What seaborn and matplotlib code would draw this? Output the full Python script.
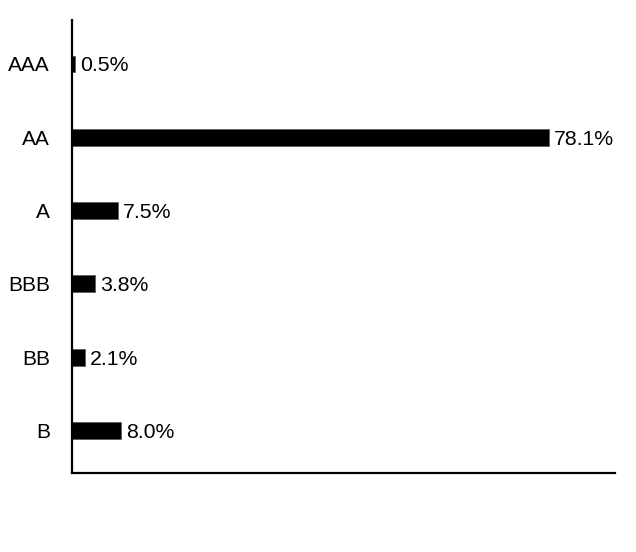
import pandas as pd
import matplotlib
matplotlib.use('Agg')
import matplotlib.pyplot as plt
import seaborn as sns

# rating distribution
ratings = ['AAA', 'AA', 'A', 'BBB', 'BB', 'B']
shares = [0.5, 78.1, 7.5, 3.8, 2.1, 8.0]

df = pd.DataFrame({'rating': ratings, 'share': shares})

sns.set_style('white')
plt.rcParams['font.family'] = ['Liberation Sans', 'DejaVu Sans']
plt.rcParams['text.color'] = 'black'
plt.rcParams['ytick.color'] = 'black'

fig = plt.figure(figsize=(6.36, 5.52), dpi=100)
ax = fig.add_axes([0.1132, 0.1431, 0.8538, 0.8207])

sns.barplot(data=df, x='share', y='rating', order=ratings, color='black',
            width=0.23, edgecolor='#555555', linewidth=0.5, ax=ax)

for i, v in enumerate(shares):
    ax.text(v + 0.8, i, f'{v:.1f}%', va='center_baseline', ha='left',
            fontsize=15.3, color='black')

ax.set_xlim(0, 88.9)
ax.set_ylim(5.58, -0.6)
ax.set_xlabel('')
ax.set_ylabel('')
ax.set_xticks([])
ax.tick_params(axis='y', length=0, pad=16, labelsize=15, labelcolor='black')
sns.despine(ax=ax, top=True, right=True)
for s in ['left', 'bottom']:
    ax.spines[s].set_linewidth(1.6)
    ax.spines[s].set_color('black')

fig.savefig('out.png', dpi=100)
